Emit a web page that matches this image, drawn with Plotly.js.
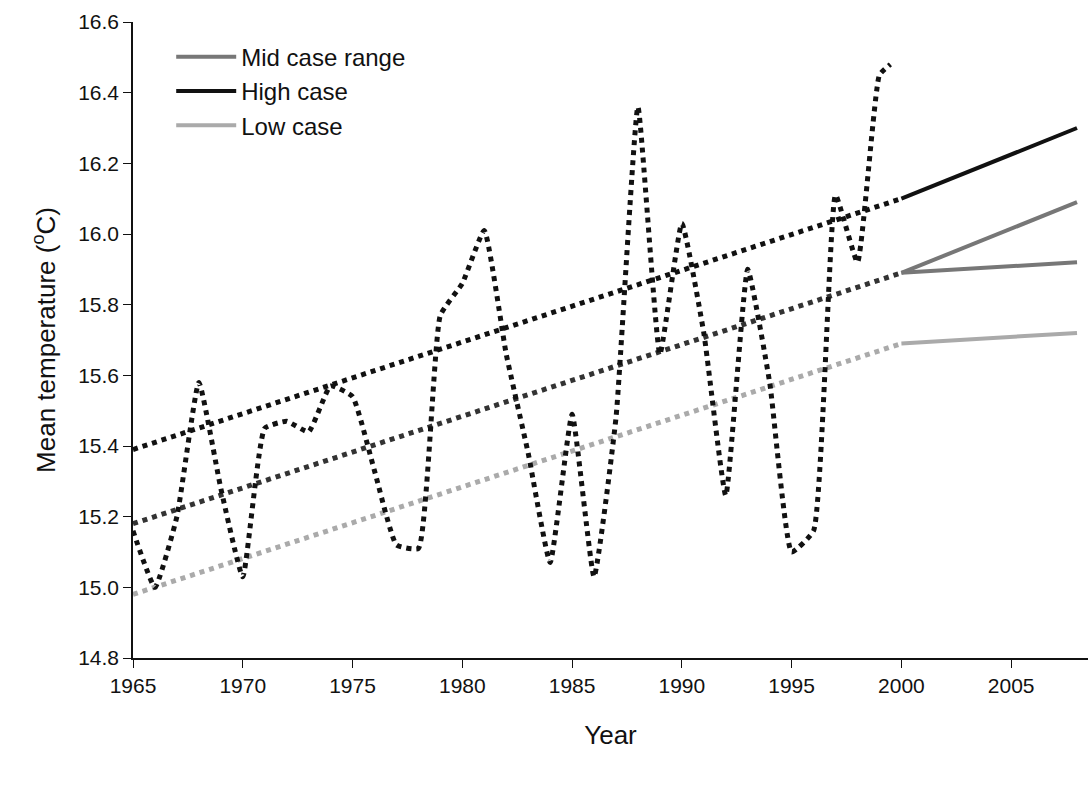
<!DOCTYPE html>
<html><head><meta charset="utf-8">
<script src="https://cdn.plot.ly/plotly-3.0.1.min.js"></script>
<style>body{margin:0;background:#fff}#chart{width:1088px;height:791px}</style>
</head><body><div id="chart"></div>
<script>
// observed yearly means (dotted curve)
var obsYears = [1965,1966,1967,1968,1969,1970,1971,1972,1973,1974,1975,1976,1977,1978,1979,1980,1981,1982,1983,1984,1985,1986,1987,1988,1989,1990,1991,1992,1993,1994,1995,1996,1997,1998,1999,1999.5];
var obsTemp = [15.16,15.0,15.2,15.58,15.28,15.03,15.45,15.47,15.44,15.57,15.54,15.33,15.12,15.11,15.77,15.86,16.01,15.66,15.38,15.07,15.49,15.03,15.48,16.36,15.66,16.03,15.72,15.26,15.9,15.58,15.1,15.16,16.11,15.92,16.45,16.48];

// trend lines (dotted) and projections (solid)
var trendYears = [1965,2000];
var highTrend = [15.39,16.1], midTrend = [15.18,15.89], lowTrend = [14.98,15.69];
var projYears = [2000,2008];
var highProj = [16.1,16.3], midProjUp = [15.89,16.09], midProjLow = [15.89,15.92], lowProj = [15.69,15.72];

var dk = '#111', md = '#777', lt = '#aaa';
function ln(x,y,c,dash,name,show){
  return {x:x,y:y,mode:'lines',name:name||'',showlegend:!!show,
    line:{color:c,width:dash?5:4,dash:dash?'dot':'solid'}};
}
var traces = [
  ln(projYears,midProjUp,md,false,'Mid case range',true),
  ln(projYears,highProj,dk,false,'High case',true),
  ln(projYears,lowProj,lt,false,'Low case',true),
  ln(projYears,midProjLow,md,false),
  ln(trendYears,highTrend,dk,true),
  ln(trendYears,midTrend,'#333',true),
  ln(trendYears,lowTrend,lt,true),
  {x:obsYears,y:obsTemp,mode:'lines',showlegend:false,
   line:{color:dk,width:5,dash:'dot',shape:'spline',smoothing:0.4}}
];
var layout = {
  width:1088,height:791,paper_bgcolor:'#fff',plot_bgcolor:'#fff',
  margin:{l:133,r:0,t:22,b:133},
  font:{family:'Liberation Sans, Arial, sans-serif',size:21,color:'#111'},
  xaxis:{range:[1965,2008.5],tickvals:[1965,1970,1975,1980,1985,1990,1995,2000,2005],
    showgrid:false,zeroline:false,showline:true,linecolor:'#111',linewidth:1.5,
    ticks:'outside',ticklen:8,tickcolor:'#111',title:{text:'Year',font:{size:26},standoff:30}},
  yaxis:{range:[14.8,16.6],dtick:0.2,tickformat:'.1f',showgrid:false,zeroline:false,
    showline:true,linecolor:'#111',linewidth:1.5,ticks:'outside',ticklen:8,tickcolor:'#111',
    title:{text:'Mean temperature (<sup>o</sup>C)',font:{size:26},standoff:15}},
  legend:{x:0.04,y:0.98,bgcolor:'rgba(0,0,0,0)',font:{size:24},itemwidth:60,tracegroupgap:0}
};
Plotly.newPlot('chart',traces,layout,{displayModeBar:false});
</script></body></html>
